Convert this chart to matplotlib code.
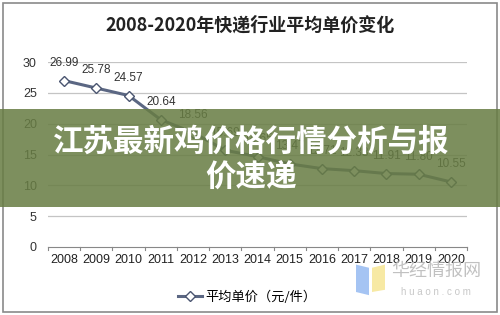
import matplotlib
matplotlib.use('Agg')
import matplotlib.pyplot as plt
from matplotlib.patches import Rectangle, Polygon

### DATA ###
years = ['2008', '2009', '2010', '2011', '2012', '2013', '2014',
         '2015', '2016', '2017', '2018', '2019', '2020']
avg_price = [26.99, 25.78, 24.57, 20.64, 18.56, 15.69, 14.65,
             13.47, 12.71, 12.38, 11.91, 11.80, 10.55]
y_ticks = [0, 5, 10, 15, 20, 25, 30]
title = '2008-2020年快递行业平均单价变化'
series_name = '平均单价（元/件）'
banner_lines = ['江苏最新鸡价格行情分析与报', '价速递']

plt.rcParams['font.family'] = ['Liberation Sans', 'Noto Sans CJK SC', 'DejaVu Sans']

fig = plt.figure(figsize=(5, 3.15), dpi=100)
ax = fig.add_axes([0.096, 0.216, 0.838, 0.587])

x = list(range(len(years)))
line, = ax.plot(x, avg_price, color='#5b6783', lw=2.2, marker='D', ms=5.5,
                mfc='white', mec='#4a5570', mew=1.0, label=series_name, zorder=3)
for xi, v in zip(x, avg_price):
    ax.text(xi, v + 1.9, f'{v:.2f}', ha='center', va='bottom', fontsize=8.5, color='#333333')

ax.set_xlim(-0.5, len(years) - 0.5)
ax.set_ylim(0, 30)
ax.set_yticks(y_ticks)
ax.set_yticklabels([str(t) for t in y_ticks], fontsize=9, color='#333333')
ax.set_xticks(x)
ax.set_xticklabels(years, fontsize=9, color='#222222')
ax.tick_params(axis='y', length=0, pad=8)
ax.tick_params(axis='x', length=0, pad=5)
# tick marks between categories on the x axis
for b in range(len(years) + 1):
    ax.plot([b - 0.5, b - 0.5], [0, -0.55], color='#888888', lw=0.8, clip_on=False)
for t in y_ticks[1:]:
    ax.axhline(t, color='#c4c4c4', lw=0.9, zorder=1)
for s in ['top', 'right', 'left']:
    ax.spines[s].set_visible(False)
ax.spines['bottom'].set_color('#888888')

fig.text(0.5, 0.92, title, ha='center', va='center', fontsize=13,
         family=['Noto Sans CJK SC'], weight='bold', color='#222222')

fig.legend(handles=[line], loc='center', bbox_to_anchor=(0.495, 0.057), frameon=False,
           handlelength=1.8, handletextpad=0.3,
           prop={'family': ['Noto Sans CJK SC'], 'size': 9.5})

# outer frame
fig.patches.append(Rectangle((0.006, 0.008), 0.988, 0.983, transform=fig.transFigure,
                             fill=False, ec='#8a8a8a', lw=1.2))

# watermark
fig.patches.append(Polygon([(0.712, 0.16), (0.738, 0.15), (0.738, 0.063), (0.712, 0.073)],
                           closed=True, transform=fig.transFigure, fc='#8fb6f0', alpha=0.8, zorder=4))
fig.patches.append(Polygon([(0.744, 0.15), (0.770, 0.16), (0.770, 0.08), (0.744, 0.073)],
                           closed=True, transform=fig.transFigure, fc='#f5e48e', alpha=0.8, zorder=4))
fig.text(0.872, 0.14, '华经情报网', ha='center', va='center', fontsize=13,
         family=['Noto Sans CJK SC'], color='#bbbbbb', alpha=0.9, zorder=5)
fig.text(0.872, 0.073, 'h u a o n . c o m', ha='center', va='center', fontsize=7,
         color='#c8c8c8', zorder=5)

# green banner over the chart
fig.patches.append(Rectangle((0, 0.343), 1, 0.311, transform=fig.transFigure,
                             fc='#687d44', alpha=0.86, ec='none', zorder=10))
fig.text(0.502, 0.549, banner_lines[0], ha='center', va='center', fontsize=22,
         family=['Noto Sans CJK SC'], weight='bold', color='white', zorder=11)
fig.text(0.502, 0.437, banner_lines[1], ha='center', va='center', fontsize=22,
         family=['Noto Sans CJK SC'], weight='bold', color='white', zorder=11)

fig.savefig('out.png', dpi=100)
